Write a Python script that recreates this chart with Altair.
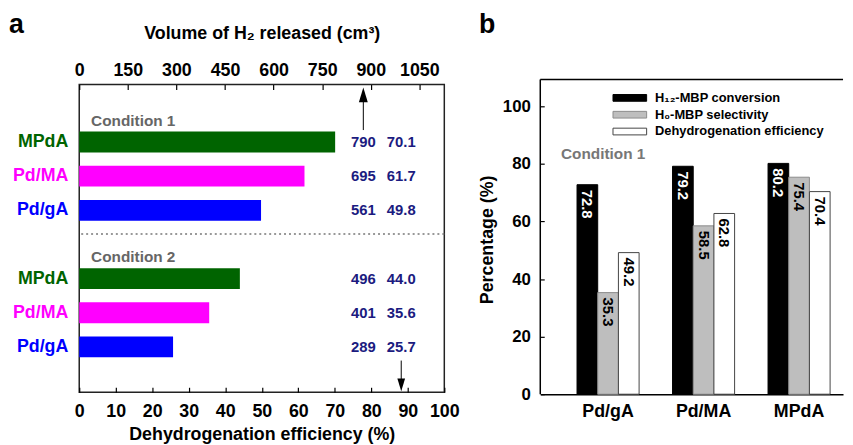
import altair as alt
import pandas as pd

FONT = "Liberation Sans"

# ---------------- Panel a data ----------------
conditions = ["Condition 1", "Condition 2"]
catalysts_a = ["MPdA", "Pd/MA", "Pd/gA"]
volume_c1 = [790, 695, 561]
efficiency_c1 = [70.1, 61.7, 49.8]
volume_c2 = [496, 401, 289]
efficiency_c2 = [44.0, 35.6, 25.7]
cat_colors = ["#006400", "#ff00ff", "#0000ff"]
vol_ticks = [0, 150, 300, 450, 600, 750, 900, 1050]
eff_ticks = [0, 10, 20, 30, 40, 50, 60, 70, 80, 90, 100]
vol_max = 1127          # volume equivalent of 100 % efficiency
vol_column = 877        # where the volume column / arrow sits (top scale)
eff_column = 88.2       # where the efficiency column / arrow sits (bottom scale)

# ---------------- Panel b data ----------------
catalysts_b = ["Pd/gA", "Pd/MA", "MPdA"]
series_b = ["H₁₂-MBP conversion", "H₀-MBP selectivity", "Dehydrogenation efficiency"]
conversion = [72.8, 79.2, 80.2]
selectivity = [35.3, 58.5, 75.4]
deh_eff = [49.2, 62.8, 70.4]
series_fill = ["#000000", "#bebebe", "#ffffff"]
series_stroke = ["#000000", "#8c8c8c", "#444444"]
y_ticks_b = [0, 20, 40, 60, 80, 100]
y_max_b = 107.6

# ---------------- build tables ----------------
rows_a = []
slots = []
for cond, vols, effs in [(conditions[0], volume_c1, efficiency_c1),
                         (conditions[1], volume_c2, efficiency_c2)]:
    slots.append(cond)
    for cat, v, e in zip(catalysts_a, vols, effs):
        slot = f"{cond}|{cat}"
        slots.append(slot)
        rows_a.append({"slot": slot, "catalyst": cat, "vol": v, "eff": e,
                       "vol_label": str(v), "eff_label": f"{e:.1f}"})
df_a = pd.DataFrame(rows_a)
df_cond = pd.DataFrame({"slot": conditions, "label": conditions})
df_sep = pd.DataFrame({"slot": conditions[1:]})
one = pd.DataFrame({"k": [0]})

rows_b = []
for i, cat in enumerate(catalysts_b):
    for s, vals in zip(series_b, [conversion, selectivity, deh_eff]):
        rows_b.append({"catalyst": cat, "series": s, "value": vals[i]})
df_b = pd.DataFrame(rows_b)

# ---------------- Panel a ----------------
y_scale = alt.Scale(domain=slots, paddingInner=0.39, paddingOuter=0.7, align=0.27)
Y = alt.Y("slot:N", scale=y_scale, axis=None)
cat_color = alt.Color("catalyst:N", scale=alt.Scale(domain=catalysts_a, range=cat_colors), legend=None)

eff_scale = alt.Scale(domain=[0, 100], nice=False)
vol_scale = alt.Scale(domain=[0, vol_max], nice=False)

bottom_axis = alt.Axis(orient="bottom", values=eff_ticks, format="d", offset=-5, tickSize=5,
                       domain=False, grid=False, labelFlush=False, labelOverlap=False,
                       labelPadding=11, labelFontSize=18, labelFontWeight="bold",
                       labelColor="black", tickColor="black", tickWidth=1.2,
                       title="Dehydrogenation efficiency (%)", titleFontSize=18,
                       titleFontWeight="bold", titleColor="black", titlePadding=5)
top_axis = alt.Axis(orient="top", values=vol_ticks, format="d", offset=-5, tickSize=5,
                    domain=False, grid=False, labelFlush=False, labelOverlap=False,
                    labelPadding=5, labelFontSize=18, labelFontWeight="bold",
                    labelColor="black", tickColor="black", tickWidth=1.2,
                    title="Volume of H₂ released (cm³)", titleFontSize=18,
                    titleFontWeight="bold", titleColor="black", titlePadding=20)

X_eff_col = alt.XDatum(eff_column, type="quantitative", scale=eff_scale, axis=bottom_axis)
X_vol_col = alt.XDatum(vol_column, type="quantitative", scale=vol_scale, axis=top_axis)

bars_a = alt.Chart(df_a).mark_bar().encode(
    x=alt.X("eff:Q", scale=eff_scale, axis=bottom_axis),
    y=Y,
    color=cat_color,
)
eff_text = alt.Chart(df_a).mark_text(fontSize=15, fontWeight="bold", color="#1b1b80").encode(
    x=X_eff_col, y=Y, text="eff_label:N",
)
cat_labels = alt.Chart(df_a).mark_text(fontSize=18, fontWeight="bold", align="right").encode(
    x=alt.value(-11), y=Y, text="catalyst:N", color=cat_color,
)
cond_labels = alt.Chart(df_cond).mark_text(fontSize=15.5, fontWeight="bold", align="left",
                                           color="#666666", dy=13).encode(
    x=alt.value(12), y=Y, text="label:N",
)
sep_rule = alt.Chart(df_sep).mark_rule(strokeDash=[2, 3], color="#777777", strokeWidth=1.5).encode(
    y=alt.Y("slot:N", scale=y_scale, axis=None, bandPosition=0),
)
arrow_b_shaft = alt.Chart(one).mark_rule(color="black", strokeWidth=1).encode(
    x=X_eff_col, y=alt.value(279), y2=alt.value(300),
)
arrow_b_head = alt.Chart(one).mark_point(shape="M0,1L0.6,-1L-0.6,-1Z", filled=True, size=169,
                                         color="black", opacity=1).encode(
    x=X_eff_col, y=alt.value(303.5),
)
label_a = alt.Chart(one).mark_text(text="a", fontSize=27, fontWeight="bold", align="left",
                                   color="black").encode(
    x=alt.value(-71), y=alt.value(-60),
)

eff_layer = alt.layer(bars_a, eff_text, cat_labels, cond_labels, sep_rule,
                      arrow_b_shaft, arrow_b_head, label_a)

vol_text = alt.Chart(df_a).mark_text(fontSize=15, fontWeight="bold", color="#1b1b80").encode(
    x=X_vol_col, y=Y, text="vol_label:N",
)
arrow_t_shaft = alt.Chart(one).mark_rule(color="black", strokeWidth=1).encode(
    x=X_vol_col, y=alt.value(16), y2=alt.value(46),
)
arrow_t_head = alt.Chart(one).mark_point(shape="M0,-1L0.6,1L-0.6,1Z", filled=True, size=225,
                                         color="black", opacity=1).encode(
    x=X_vol_col, y=alt.value(10.5),
)
vol_layer = alt.layer(vol_text, arrow_t_shaft, arrow_t_head)

panel_a = alt.layer(eff_layer, vol_layer).resolve_scale(x="independent").properties(
    width=369, height=311,
    view=alt.ViewBackground(stroke="#222222", strokeWidth=1.5),
)

# ---------------- Panel b ----------------
W_B, H_B = 306, 313
x_b = alt.X("catalyst:N", sort=catalysts_b,
            scale=alt.Scale(domain=catalysts_b, paddingInner=0.35, paddingOuter=0.26, align=0.74),
            axis=alt.Axis(title=None, labelAngle=0, ticks=False, domain=True, domainColor="black",
                          domainWidth=1.5, labelFontSize=18, labelFontWeight="bold",
                          labelColor="black", labelPadding=9))
xoff_b = alt.XOffset("series:N", sort=series_b,
                     scale=alt.Scale(domain=series_b, paddingInner=0, paddingOuter=0))
y_scale_b = alt.Scale(domain=[0, y_max_b], nice=False)
y_b = alt.Y("value:Q", scale=y_scale_b,
            axis=alt.Axis(values=y_ticks_b, offset=-4, tickSize=4, domain=False,
                          grid=False, tickColor="black", tickWidth=1.2,
                          labelFontSize=17, labelFontWeight="bold", labelColor="black",
                          labelPadding=10, title="Percentage (%)", titleFontSize=18,
                          titleFontWeight="bold", titleColor="black", titlePadding=6))
legend_b = alt.Legend(orient="none", legendX=549, legendY=6, title=None,
                      symbolType="M-2.5,-0.5L2.5,-0.5L2.5,0.5L-2.5,0.5Z", symbolSize=185,
                      symbolStrokeWidth=1, symbolOpacity=1,
                      labelFontSize=13, labelFontWeight="bold", labelColor="black",
                      labelOffset=18, labelLimit=400, rowPadding=2, padding=0)

bars_b = alt.Chart(df_b).mark_bar(strokeWidth=1).encode(
    x=x_b, xOffset=xoff_b, y=y_b,
    fill=alt.Fill("series:N", sort=series_b,
                  scale=alt.Scale(domain=series_b, range=series_fill), legend=legend_b),
    stroke=alt.Stroke("series:N", sort=series_b,
                      scale=alt.Scale(domain=series_b, range=series_stroke), legend=legend_b),
)
text_b = alt.Chart(df_b).mark_text(angle=90, align="left", baseline="middle", dx=5,
                                   fontSize=15, fontWeight="bold").encode(
    x=x_b, xOffset=xoff_b, y=y_b,
    text=alt.Text("value:Q", format=".1f"),
    color=alt.condition(alt.datum.series == series_b[0], alt.value("white"), alt.value("black")),
)
cond_b = alt.Chart(one).mark_text(text="Condition 1", fontSize=15.5, fontWeight="bold",
                                  align="left", color="#777777").encode(
    x=alt.value(21), y=alt.YDatum(83.5, type="quantitative", scale=y_scale_b),
)
top_rule_b = alt.Chart(one).mark_rule(color="black", strokeWidth=1.5).encode(
    y=alt.value(-5), x=alt.value(0), x2=alt.value(W_B),
)
left_rule_b = alt.Chart(one).mark_rule(color="black", strokeWidth=1.5).encode(
    x=alt.value(0), y=alt.value(-5), y2=alt.value(H_B),
)
label_b = alt.Chart(one).mark_text(text="b", fontSize=27, fontWeight="bold", align="left",
                                   color="black").encode(
    x=alt.value(-62), y=alt.value(-60),
)

panel_b = alt.layer(bars_b, text_b, cond_b, top_rule_b, left_rule_b, label_b).properties(
    width=W_B, height=H_B,
    view=alt.ViewBackground(stroke="transparent"),
)

chart = alt.hconcat(panel_a, panel_b, spacing=18).configure(
    font=FONT,
).properties(
    padding={"top": 0, "left": 0, "right": 0, "bottom": 0},
)

chart.save("out.html", embed_options={"renderer": "svg", "actions": False})
